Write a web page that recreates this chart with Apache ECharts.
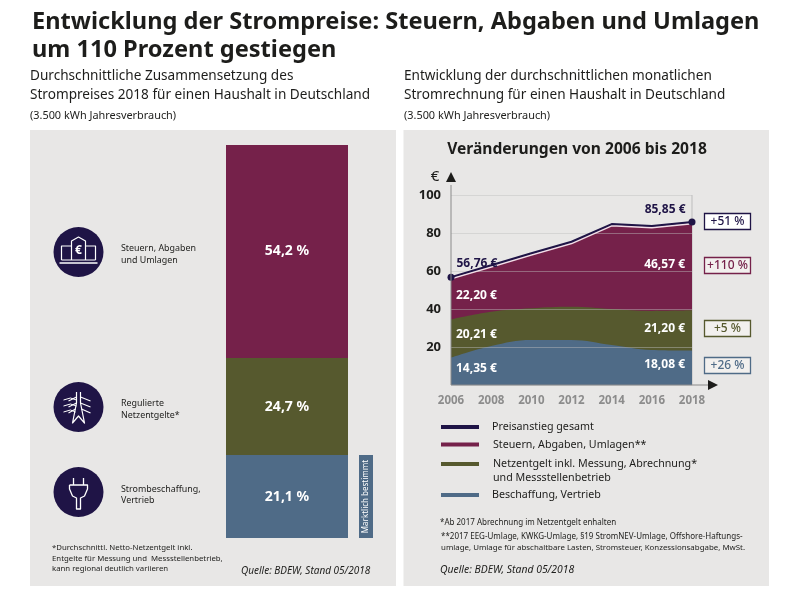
<![CDATA[<!DOCTYPE html>
<html><head><meta charset="utf-8">
<style>html,body{margin:0;padding:0;background:#fff}#c{width:800px;height:600px}</style>
<script src="https://cdn.jsdelivr.net/npm/echarts@6/dist/echarts.min.js"></script></head>
<body><div id="c"></div>
<script>
const FONT='"Noto Sans"';
const NAVY='#1f1446',RED='#75214a',GREEN='#56592e',BLUE='#4f6b87',PANEL='#e8e7e6',INK='#1d1d1b';
// composition 2018
const shareCat=['2018'];
const shareSupply=[21.1];
const shareGrid=[24.7];
const shareTax=[54.2];
// development
const years=['2006','2008','2010','2012','2014','2016','2018'];
const supply=[14.35,20.5,23.7,23.7,21,18.4,18.08];
const grid=[20.21,18.1,16.7,17.5,19,20.6,21.2];
const taxes=[22.2,24.4,28.9,34.2,44.7,44.7,46.57];
const yTicks=[0,20,40,60,80,100];
const changes=['+51 %','+110 %','+5 %','+26 %'];

const comma=v=>v.toFixed(2).replace('.',',')+' €';
const cumGrid=supply.map((v,i)=>+(v+grid[i]).toFixed(2));
const total=cumGrid.map((v,i)=>+(v+taxes[i]).toFixed(2));

function T(text,x,y,size,opt={}){return {type:'text',z:20,style:{text,x,y,fill:opt.fill||INK,
  font:`${opt.italic?'italic ':''}${opt.weight||'normal'} ${size}px ${FONT}`,textAlign:opt.align||'left',textVerticalAlign:'middle'}};}
function R(x,y,w,h,fill,z=0,stroke){return {type:'rect',z,shape:{x,y,width:w,height:h},style:{fill,stroke,lineWidth:stroke?1.3:0}};}
function L(points,color,width=1,z=20,fill){return {type:'polyline',z,shape:{points},style:{stroke:color,lineWidth:width,fill:fill||null,lineJoin:'round'}};}
function tri(points,color){return {type:'polygon',z:20,shape:{points},style:{fill:color}};}
function P(cx,cy,pts,w=1.2,close){const p=pts.map(q=>[cx+q[0],cy+q[1]]);if(close)p.push(p[0]);return L(p,'#fff',w,21);}

const g=[
 R(30,130,366,456,PANEL,-1),R(403.5,130,365.5,456,PANEL,-1),
 T('Entwicklung der Strompreise: Steuern, Abgaben und Umlagen',32,22.5,23.6,{weight:'bold'}),
 T('um 110 Prozent gestiegen',32,50.5,23.6,{weight:'bold'}),
 T('Durchschnittliche Zusammensetzung des',30,76.5,13.6),
 T('Strompreises 2018 für einen Haushalt in Deutschland',30,95.5,13.6),
 T('(3.500 kWh Jahresverbrauch)',30,116,10.9),
 T('Entwicklung der durchschnittlichen monatlichen',404,76.5,13.6),
 T('Stromrechnung für einen Haushalt in Deutschland',404,95.5,13.6),
 T('(3.500 kWh Jahresverbrauch)',404,116,10.9),
 // left legend
 T('Steuern, Abgaben',121,248,8.9),T('und Umlagen',121,260,8.9),
 T('Regulierte',121,403,8.9),T('Netzentgelte*',121,415,8.9),
 T('Strombeschaffung,',121,489,8.9),T('Vertrieb',121,500,8.9),
 T('*Durchschnittl. Netto-Netzentgelt inkl.',52,548,7.8),
 T('Entgelte für Messung und  Messstellenbetrieb,',52,558.5,7.8),
 T('kann regional deutlich variieren',52,569,7.8),
 T('Quelle: BDEW, Stand 05/2018',241,571,10,{italic:true}),
 // icons
 {type:'circle',z:20,shape:{cx:78.5,cy:252,r:25},style:{fill:NAVY}},
 {type:'circle',z:20,shape:{cx:78.5,cy:407,r:25},style:{fill:NAVY}},
 {type:'circle',z:20,shape:{cx:78.5,cy:492,r:25},style:{fill:NAVY}},
 // bank
 P(78.5,252,[[-19,11],[19,11]],1.5),
 P(78.5,252,[[-17,8],[-17,-6],[-7,-6]],1.2),P(78.5,252,[[17,8],[17,-6],[7,-6]],1.2),
 P(78.5,252,[[-17,8],[17,8]],1.2),
 P(78.5,252,[[-7,8],[-7,-11],[0,-15],[7,-11],[7,8]],1.2),
 T('€',78.5,251,12,{fill:'#fff',weight:'bold',align:'center'}),
 // tower
 P(78.5,407,[[-2,-15],[-2,-4],[-6,16],[0,9],[6,16],[2,-4],[2,-15]],1.2),
 P(78.5,407,[[-2,-10],[-10,-6]],1.1),P(78.5,407,[[2,-10],[12,-6]],1.1),
 P(78.5,407,[[-2,-4],[-10,0]],1.1),P(78.5,407,[[2,-4],[12,0]],1.1),
 P(78.5,407,[[-3,2],[-10,6]],1.1),P(78.5,407,[[3,2],[12,6]],1.1),
 P(78.5,407,[[-15,-7],[-8,-9],[-2,-7]],1),P(78.5,407,[[-15,-1],[-8,-3],[-2,-1]],1),P(78.5,407,[[-15,5],[-8,3],[-3,5]],1),
 // plug
 P(78.5,492,[[-5,-14],[-5,-7]],1.3),P(78.5,492,[[5,-14],[5,-7]],1.3),
 P(78.5,492,[[-9,-7],[9,-7],[9,-3],[6,4],[2,6],[2,17],[-2,17],[-2,6],[-6,4],[-9,-3]],1.3,true),
 // Marktlich bestimmt
 R(359,455,14,83,BLUE,1),
 {type:'text',z:20,rotation:Math.PI/2,x:366,y:496.5,style:{text:'Marktlich bestimmt',font:`normal 8px ${FONT}`,fill:'#fff',textAlign:'center',textVerticalAlign:'middle'}},
 // right
 T('Veränderungen von 2006 bis 2018',577,150,15.6,{weight:'bold',align:'center'}),
 T('€',435,177,15,{weight:'normal',align:'center'}),
 L([[451,185],[451,385]],'#8a8a8a',1,20),tri([[446,182],[456,182],[451,172]],INK),
 L([[451,385],[708,385]],'#8a8a8a',1,20),tri([[708,380],[708,390],[718,385]],INK),
 L([[692,195],[692,385]],'#bdbdbd',1,1),
 // tags
 R(704.5,213.5,46,16,'#fff',20,NAVY),T(changes[0],727.5,221.5,12,{fill:NAVY,weight:500,align:'center'}),
 R(704.5,257.5,46,16,'#f2f0ee',20,RED),T(changes[1],727.5,265.5,12,{fill:RED,weight:500,align:'center'}),
 R(704.5,320.5,46,16,'#f2f0ee',20,GREEN),T(changes[2],727.5,328.5,12,{fill:GREEN,weight:500,align:'center'}),
 R(704.5,357.5,46,16,'#f2f0ee',20,BLUE),T(changes[3],727.5,365.5,12,{fill:BLUE,weight:500,align:'center'}),
 // legend
 L([[441,427],[479,427]],NAVY,4),T('Preisanstieg gesamt',492,427,10.7),
 L([[441,444.5],[479,444.5]],RED,4),T('Steuern, Abgaben, Umlagen**',493,444.5,10.7),
 L([[441,464],[479,464]],GREEN,4),T('Netzentgelt inkl. Messung, Abrechnung*',493,464,10.7),
 T('und Messstellenbetrieb',493,478,10.7),
 L([[441,495],[479,495]],BLUE,4),T('Beschaffung, Vertrieb',492,495,10.7),
 T('*Ab 2017 Abrechnung im Netzentgelt enhalten',440,523,8),
 T('**2017 EEG-Umlage, KWKG-Umlage, §19 StromNEV-Umlage, Offshore-Haftungs-',441,537,8),
 T('umlage, Umlage für abschaltbare Lasten, Stromsteuer, Konzessionsabgabe, MwSt.',441,548,7.9),
 T('Quelle: BDEW, Stand 05/2018',440,570,10.4,{italic:true}),
];

function items(values,shown,left,right,color){
  return values.map((v,i)=>{
    if(i===0)return {value:v,label:{show:true,position:'right',offset:left,color,formatter:comma(shown[0])}};
    if(i===values.length-1)return {value:v,label:{show:true,position:'left',offset:right,color,formatter:comma(shown[i])}};
    return {value:v,label:{show:false}};
  });
}
function area(name,values,shown,color,smooth,left,right,labelColor){
  return {type:'line',name,xAxisIndex:1,yAxisIndex:1,data:items(values,shown,left,right,labelColor),smooth,
    symbol:'circle',symbolSize:0.01,showSymbol:true,showAllSymbol:true,silent:true,animation:false,
    lineStyle:{width:0},areaStyle:{color,opacity:1},itemStyle:{color},
    label:{fontFamily:FONT,fontWeight:'bold',fontSize:12}};
}
const barLabel=c=>({show:true,position:'inside',color:'#fff',fontFamily:FONT,fontWeight:'bold',fontSize:14,
  formatter:p=>String(p.value).replace('.',',')+' %'});
const bar=(name,data,color)=>({type:'bar',name,stack:'s',data,barWidth:'100%',itemStyle:{color},label:barLabel(),animation:false,silent:true});

const option={
 animation:false,textStyle:{fontFamily:FONT},
 graphic:{elements:g},
 grid:[{left:226,top:145,width:122,height:393},{left:451,top:195,width:241,height:190}],
 xAxis:[{type:'category',gridIndex:0,data:shareCat,show:false},
  {type:'category',gridIndex:1,data:years,boundaryGap:false,axisLine:{show:false},axisTick:{show:false},
   axisLabel:{color:'#8c8c8c',fontFamily:FONT,fontWeight:'bold',fontSize:11.5,margin:10,showMinLabel:true,showMaxLabel:true,interval:0}}],
 yAxis:[{type:'value',gridIndex:0,min:0,max:100,show:false},
  {type:'value',gridIndex:1,min:yTicks[0],max:yTicks[yTicks.length-1],interval:20,z:5,axisLine:{show:false},axisTick:{show:false},
   splitLine:{lineStyle:{color:'rgba(190,190,190,0.45)',width:1}},
   axisLabel:{color:INK,fontFamily:FONT,fontWeight:'bold',fontSize:13,margin:10,showMinLabel:false}}],
 series:[
  bar('Strombeschaffung',shareSupply,BLUE),bar('Netzentgelte',shareGrid,GREEN),bar('Steuern',shareTax,RED),
  area('Steuern, Abgaben, Umlagen',total,taxes,RED,false,[0,18],[-2,43],'#fff'),
  area('Netzentgelt',cumGrid,grid,GREEN,0.4,[0,15],[-2,18],'#fff'),
  area('Beschaffung',supply,supply,BLUE,0.4,[0,11],[-2,14],'#fff'),
  {type:'line',name:'Preisanstieg gesamt',xAxisIndex:1,yAxisIndex:1,z:6,animation:false,silent:true,
   data:total.map((v,i)=>{const end=i===0||i===total.length-1;
     return {value:v,symbol:end?'circle':'none',symbolSize:end?7:0,
      label:{show:end,position:i===0?'right':'left',offset:i===0?[-3,-14]:[2,-12],color:NAVY,fontFamily:FONT,fontWeight:'bold',fontSize:12,formatter:comma(v)}};}),
   showSymbol:true,showAllSymbol:true,itemStyle:{color:NAVY},
   lineStyle:{color:NAVY,width:2,shadowColor:'#f3dfe8',shadowBlur:0,shadowOffsetY:1.5}},
 ]
};
const chart=echarts.init(document.getElementById('c'),null,{renderer:'canvas'});
chart.setOption(option);
</script></body></html>]]>
